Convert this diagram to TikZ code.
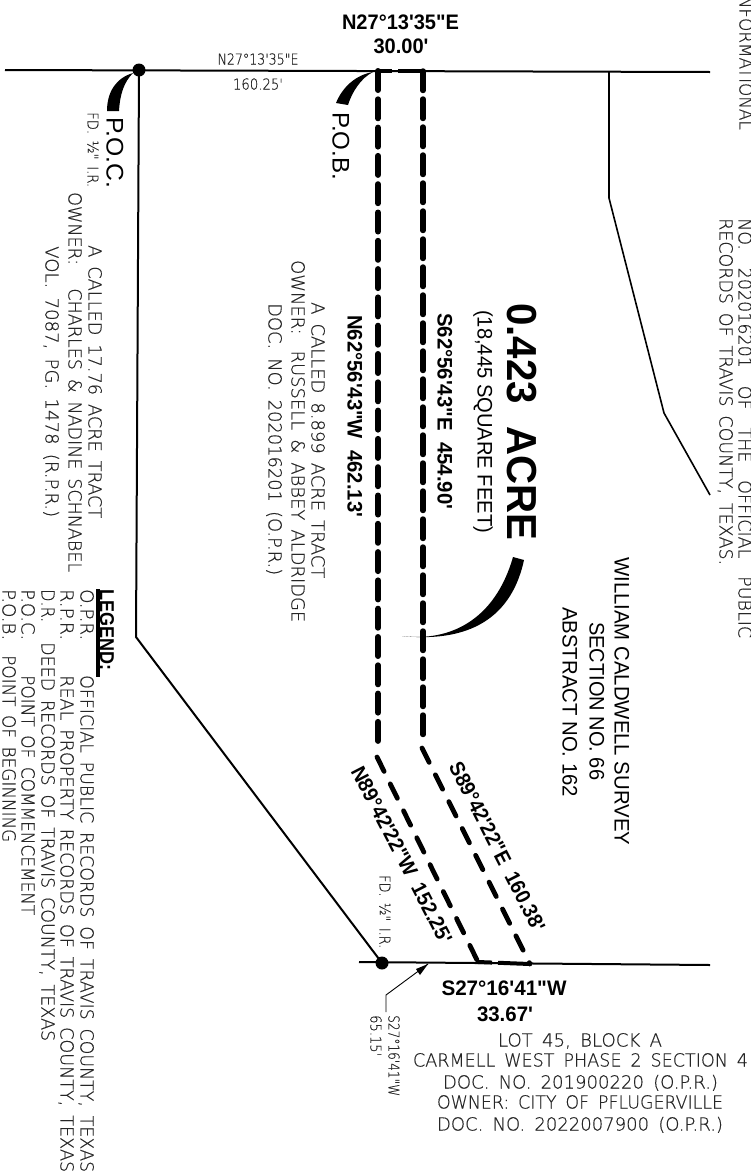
\documentclass[tikz,border=0pt]{standalone}
\usepackage{fontspec}
\usepackage{graphicx}
\newfontfamily\lib{Liberation Sans}
\newfontfamily\cad[WordSpace=1.6,FakeBold=0.5]{DejaVu Sans ExtraLight}
\newlength\fitlen
\newcommand\fitw[2]{\settowidth\fitlen{#2}\pgfmathsetmacro\fitr{#1/\fitlen}\scalebox{\fitr}[1]{#2}}
\tikzset{
  cadbase/.style={inner sep=0pt,text=black!85,text depth=0pt},
  cadtext/.style={cadbase,font=\cad\fontsize{18}{18}\selectfont,text height=13pt},
  cadsmall/.style={cadbase,font=\cad\fontsize{15}{15}\selectfont,text height=11pt},
  legendhead/.style={inner sep=0pt,font=\lib\bfseries\fontsize{20}{20}\selectfont,text height=14pt,text depth=0pt},
  boldlabel/.style={inner sep=0pt,font=\lib\bfseries\fontsize{21}{21}\selectfont,text height=15pt,text depth=0pt},
  reglabel/.style={inner sep=0pt,font=\lib\fontsize{21}{21}\selectfont,text height=15pt,text depth=0pt},
  bigtext/.style={inner sep=0pt,font=\lib\bfseries\fontsize{42}{42}\selectfont,text height=30pt,text depth=0pt},
  pointlabel/.style={inner sep=0pt,font=\lib\fontsize{24}{24}\selectfont,text height=17pt,text depth=0pt},
  down/.style={rotate=-90,anchor=west},
  boundary/.style={draw=black,line width=2pt},
  thin boundary/.style={draw=black,line width=1.6pt},
  tractleft/.style={draw=black,line width=6pt,line cap=round,dash pattern=on 19pt off 9.3pt},
  tractright/.style={draw=black,line width=5.4pt,line cap=round,dash pattern=on 19.5pt off 8.5pt},
  tractdiag/.style={draw=black,line width=4.8pt,line cap=round,dash pattern=on 16pt off 14pt},
  tracttie/.style={draw=black,line width=4pt,dash pattern=on 14pt off 6pt on 40pt off 1pt},
  monument/.style={circle,fill=black,inner sep=0pt,minimum size=13pt},
}
\begin{document}
\begin{tikzpicture}[x=1pt,y=-1pt]
\useasboundingbox (0,0) rectangle (751,1173);
\fill[white] (0,0) rectangle (751,1173);
% frame coordinates
\coordinate (topW) at (5,70);
\coordinate (topE) at (710,72);
\coordinate (botW) at (359,962);
\coordinate (botE) at (710,965);
\coordinate (westBend) at (136,637);
\coordinate (tlTop) at (378,71);
\coordinate (tlBend) at (378,750);
\coordinate (tlDiag) at (377,757);
\coordinate (tlEnd) at (478,962);
\coordinate (trTop) at (423,71);
\coordinate (trBend) at (423,741);
\coordinate (trDiag) at (422,748);
\coordinate (trEnd) at (530,964);
\coordinate (eastT) at (609,71);
\coordinate (eastB1) at (609,198);
\coordinate (eastB2) at (664,413);
\coordinate (eastB3) at (710,495);
\node[monument] (poc) at (139,70) {};
\node[monument] (sw) at (382,963) {};
% boundary lines
\draw[boundary] (topW) -- (topE);
\draw[boundary] (botW) -- (botE);
\draw[boundary] (poc.center) -- (westBend) -- (sw.center);
\draw[thin boundary] (eastT) -- (eastB1) -- (eastB2) -- (eastB3);
% tract
\draw[tractleft] (tlTop) -- (tlBend);
\draw[tractright] (trTop) -- (trBend);
\draw[tractdiag] (tlDiag) -- (tlEnd);
\draw[tractdiag] (trDiag) -- (trEnd);
\draw[tracttie] (tlTop) -- (trTop);
\draw[tracttie] (tlEnd) -- (trEnd);
% leaders
\coordinate (pocTip) at (133,73);
\coordinate (pocA) at (107,111);
\coordinate (pocB) at (119,111);
\fill[black] (pocTip) .. controls (116,78) and (107,92) .. (pocA) -- (pocB) .. controls (120,94) and (124,82) .. (pocTip) -- cycle;
\coordinate (pobTip) at (373,72);
\coordinate (pobA) at (336,103);
\coordinate (pobB) at (348,105);
\fill[black] (pobTip) .. controls (355,75) and (342,88) .. (pobA) -- (pobB) .. controls (352,92) and (361,78) .. (pobTip) -- cycle;
\coordinate (acreTip) at (402,636);
\coordinate (acreA) at (513,557);
\coordinate (acreB) at (524,560);
\fill[black] (acreTip) .. controls (450,642) and (495,620) .. (acreA) -- (acreB) .. controls (510,625) and (460,642) .. (acreTip) -- cycle;
% arrow leader
\coordinate (lblA) at (386,1012);
\coordinate (lblB) at (386,995);
\coordinate (lblC) at (428,964);
\draw[black,line width=0.9pt] (lblA) -- (lblB) -- (lblC);
\fill[black] (lblC) -- (416,969) -- (420,975) -- cycle;
% legend underline
\coordinate (ulA) at (98,589);
\coordinate (ulB) at (98,677);
\draw[black,line width=3.4pt] (ulA) -- (ulB);
% top labels
\node[boldlabel,anchor=center] (t1) at (400.5,22) {\fitw{117}{N27°13'35"E}};
\node[boldlabel,anchor=center] (t2) at (401,46) {\fitw{55}{30.00'}};
\node[cadsmall,anchor=center] (t3) at (258,59) {\fitw{81}{N27°13'35"E}};
\node[cadsmall,anchor=center] (t4) at (258,84) {\fitw{50}{160.25'}};
\node[pointlabel,down] (poclbl) at (115,117) {\fitw{71}{P.O.C.}};
\node[pointlabel,down] (poblbl) at (341,112) {\fitw{68}{P.O.B.}};
\node[cadsmall,down] (fd1) at (93,112) {\fitw{75}{FD. ½" I.R.}};
% west owner
\node[cadtext,down] (w1) at (95,245) {\fitw{273}{A CALLED 17.76 ACRE TRACT}};
\node[cadtext,down] (w2) at (75,192) {\fitw{380}{OWNER:\hspace{24pt}CHARLES \& NADINE SCHNABEL}};
\node[cadtext,down] (w3) at (52,246) {\fitw{271}{VOL. 7087, PG. 1478 (R.P.R.)}};
% middle owner
\node[cadtext,down] (m1) at (318,302) {\fitw{276}{A CALLED 8.899 ACRE TRACT}};
\node[cadtext,down] (m2) at (298,260) {\fitw{362}{OWNER:\hspace{16pt}RUSSELL \& ABBEY ALDRIDGE}};
\node[cadtext,down] (m3) at (275,303) {\fitw{272}{DOC. NO. 202016201 (O.P.R.)}};
% legend
\node[legendhead,down] (lg) at (107,589) {\fitw{81}{LEGEND:}};
\node[cadtext,down] (lg1) at (87,589) {\fitw{51}{O.P.R.}};
\node[cadtext,down] (lg1b) at (87,675) {\fitw{497}{OFFICIAL PUBLIC RECORDS OF TRAVIS COUNTY, TEXAS}};
\node[cadtext,down] (lg2) at (67,589) {\fitw{51}{R.P.R.}};
\node[cadtext,down] (lg2b) at (67,675) {\fitw{497}{REAL PROPERTY RECORDS OF TRAVIS COUNTY, TEXAS}};
\node[cadtext,down] (lg3) at (48,589) {\fitw{33}{D.R.}};
\node[cadtext,down] (lg3b) at (48,642) {\fitw{399}{DEED RECORDS OF TRAVIS COUNTY, TEXAS}};
\node[cadtext,down] (lg4) at (28,589) {\fitw{51}{P.O.C.}};
\node[cadtext,down] (lg4b) at (28,675) {\fitw{240}{POINT OF COMMENCEMENT}};
\node[cadtext,down] (lg5) at (9,589) {\fitw{51}{P.O.B.}};
\node[cadtext,down] (lg5b) at (9,655) {\fitw{187}{POINT OF BEGINNING}};
% right edge
\node[cadtext,rotate=-90,anchor=east] (r0) at (746,130) {\fitw{134}{NFORMATIONAL}};
\node[cadtext,down] (r1) at (745,218) {\fitw{420}{NO.\ \ 202016201\ \ OF\ \ THE\ \ OFFICIAL\ \ PUBLIC}};
\node[cadtext,down] (r2) at (726,218) {\fitw{347}{RECORDS OF TRAVIS COUNTY, TEXAS.}};
% tract labels
\node[bigtext,down] (acre) at (522,303) {\fitw{237}{0.423\ \ ACRE}};
\node[reglabel,down] (sqft) at (485,310) {\fitw{223}{(18,445 SQUARE FEET)}};
\node[boldlabel,down] (c1) at (355,315) {\fitw{202}{N62°56'43"W\ \ 462.13'}};
\node[boldlabel,down] (c2) at (445,313) {\fitw{196}{S62°56'43"E\ \ 454.90'}};
\node[reglabel,down] (s1) at (622,557) {\fitw{288}{WILLIAM CALDWELL SURVEY}};
\node[reglabel,down] (s2) at (597,622) {\fitw{158}{SECTION NO. 66}};
\node[reglabel,down] (s3) at (570,607) {\fitw{190}{ABSTRACT NO. 162}};
\node[boldlabel,rotate=-63,anchor=center] (d1) at (497.5,846.5) {\fitw{187}{S89°42'22"E\ \ 160.38'}};
\node[boldlabel,rotate=-62.7,anchor=center] (d2) at (402,855) {\fitw{196}{N89°42'22"W\ \ 152.25'}};
\node[cadsmall,down] (fd2) at (385,875) {\fitw{73}{FD. ½" I.R.}};
\node[boldlabel,anchor=center] (b1) at (504,988) {\fitw{125}{S27°16'41"W}};
\node[boldlabel,anchor=center] (b2) at (505,1014) {\fitw{56}{33.67'}};
\node[cadsmall,down] (b3) at (394,1015) {\fitw{81}{S27°16'41"W}};
\node[cadsmall,down] (b4) at (376,1015) {\fitw{41}{65.15'}};
% lot text
\node[cadtext,anchor=center] (l1) at (580,1040) {\fitw{164}{LOT 45, BLOCK A}};
\node[cadtext,anchor=center] (l2) at (580.5,1060) {\fitw{335}{CARMELL WEST PHASE 2 SECTION 4}};
\node[cadtext,anchor=center] (l3) at (580.5,1082) {\fitw{275}{DOC. NO. 201900220 (O.P.R.)}};
\node[cadtext,anchor=center] (l4) at (580,1102) {\fitw{286}{OWNER: CITY OF PFLUGERVILLE}};
\node[cadtext,anchor=center] (l5) at (580,1124) {\fitw{286}{DOC. NO. 2022007900 (O.P.R.)}};
\end{tikzpicture}
\end{document}
